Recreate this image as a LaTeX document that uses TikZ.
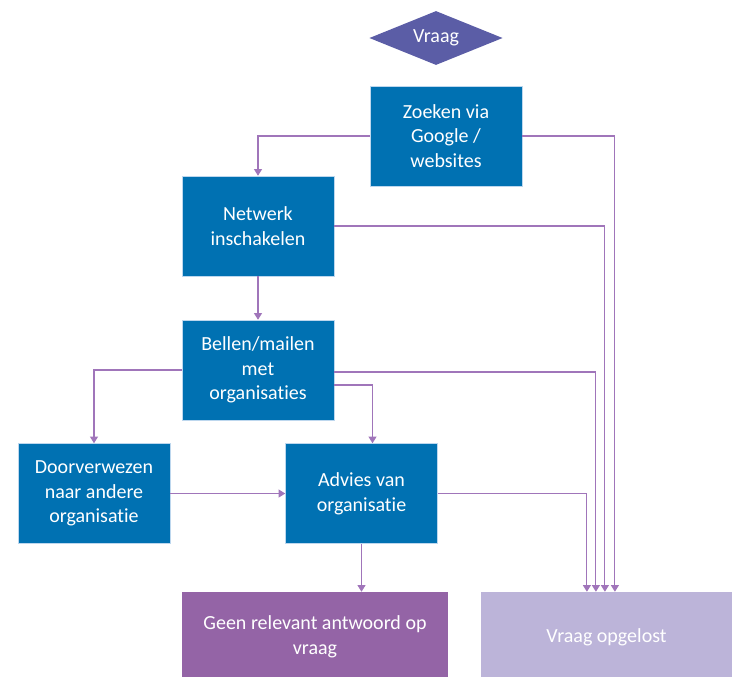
\documentclass[tikz,border=0pt]{standalone}
\usepackage{fontspec}
\setmainfont{Carlito}[Ligatures=NoCommon]
\usepackage{tikz}
\usetikzlibrary{shapes,arrows,positioning,calc,arrows.meta}

\definecolor{stapblauw}{HTML}{0071B2}
\definecolor{randblauw}{HTML}{BDD7EE}
\definecolor{vraagpaars}{HTML}{5B5DA6}
\definecolor{geenpaars}{HTML}{9464A6}
\definecolor{oplila}{HTML}{BCB4D9}
\definecolor{pijlpaars}{HTML}{A075BA}

\tikzset{
    stapbox/.style={draw=randblauw, line width=0.4pt, fill=stapblauw, text=white, align=center,
        minimum width=114pt, minimum height=75pt, inner sep=0pt},
    eindbox/.style={draw=none, text=white, align=center, minimum height=67.5pt, inner sep=0pt},
    pijl/.style={draw=pijlpaars, line width=0.8pt, -{Triangle[width=6pt,length=5pt]}}
}

\begin{document}
\begin{tikzpicture}[x=0.75pt, y=-0.75pt, font=\fontsize{15}{18.4}\selectfont]
        \useasboundingbox (0,0) rectangle (732,676);
        % start
        \node[diamond, aspect=2.5, fill=vraagpaars, text=white, inner sep=0pt,
              minimum width=100pt, minimum height=40.5pt] (vraag) at (436,38) {Vraag};
        % stappen
        \node[stapbox] (zoeken) at (446,136) {Zoeken via\\Google /\\websites};
        \node[stapbox] (netwerk) at (258,226) {Netwerk\\inschakelen};
        \node[stapbox] (bellen) at (258,370) {Bellen/mailen\\met\\organisaties};
        \node[stapbox] (door) at (94,493.5) {Doorverwezen\\naar andere\\organisatie};
        \node[stapbox] (advies) at (361.5,493.5) {Advies van\\organisatie};
        % uitkomsten (loopt onder de rand door)
        \node[eindbox, fill=geenpaars, minimum width=199.5pt] (geen) at (315,637) {Geen relevant antwoord op\\vraag};
        \node[eindbox, fill=oplila, minimum width=188pt] (opgelost) at (606.5,637) {Vraag opgelost};
        \coordinate (in1) at ($(opgelost.north west)+(106,0)$);
        \coordinate (in2) at ($(opgelost.north west)+(115,0)$);
        \coordinate (in3) at ($(opgelost.north west)+(124,0)$);
        \coordinate (in4) at ($(opgelost.north west)+(134,0)$);
        % pijlen
        \draw[pijl] (zoeken.west) -| (netwerk.north);
        \draw[pijl] (zoeken.east) -| (in4);
        \draw[pijl] (netwerk.east) -| (in3);
        \draw[pijl] (netwerk.south) -- (bellen.north);
        \draw[pijl] (bellen.west) -| (door.north);
        \draw[pijl] ($(bellen.east)+(0,2)$) -| (in2);
        \draw[pijl] ($(bellen.east)+(0,15)$) -| ($(advies.north)+(11,0)$);
        \draw[pijl] (door.east) -- (advies.west);
        \draw[pijl] (advies.east) -| (in1);
        \draw[pijl] (advies.south) -- (advies.south |- geen.north);
    \end{tikzpicture}
\end{document}
